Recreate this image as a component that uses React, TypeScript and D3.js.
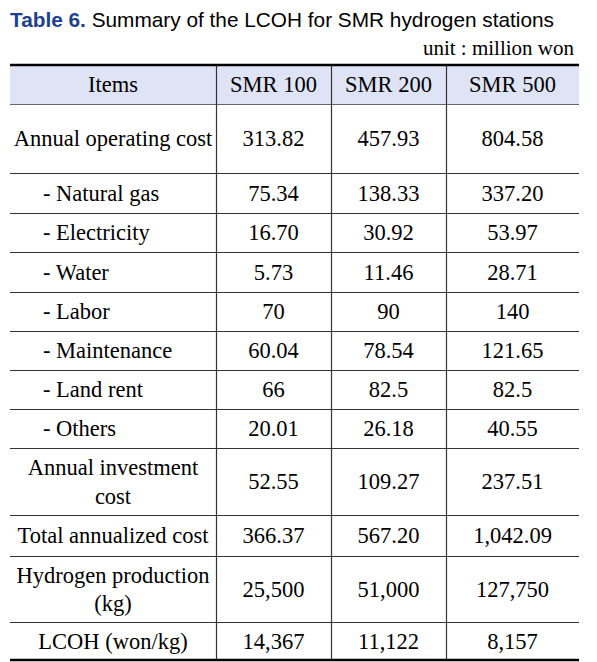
import React from "react";
import * as d3 from "d3";

const titleBold = "Table 6.";
const titleRest = " Summary of the LCOH for SMR hydrogen stations";
const unitLabel = "unit : million won";
const headers = ["Items", "SMR 100", "SMR 200", "SMR 500"];
const items: string[][] = [
  ["Annual operating cost"],
  ["- Natural gas"],
  ["- Electricity"],
  ["- Water"],
  ["- Labor"],
  ["- Maintenance"],
  ["- Land rent"],
  ["- Others"],
  ["Annual investment", "cost"],
  ["Total annualized cost"],
  ["Hydrogen production", "(kg)"],
  ["LCOH (won/kg)"],
];
const smr100 = ["313.82", "75.34", "16.70", "5.73", "70", "60.04", "66", "20.01", "52.55", "366.37", "25,500", "14,367"];
const smr200 = ["457.93", "138.33", "30.92", "11.46", "90", "78.54", "82.5", "26.18", "109.27", "567.20", "51,000", "11,122"];
const smr500 = ["804.58", "337.20", "53.97", "28.71", "140", "121.65", "82.5", "40.55", "237.51", "1,042.09", "127,750", "8,157"];

// layout
const W = 597;
const H = 662;
const colEdges = [10, 216, 331, 446, 579];
const tableTop = 65;
const headerH = 39;
const rowHeights = [69, 40, 39, 40, 39, 39, 39, 39, 67, 41, 66, 38];
const fs = 22.5;
const serif = "'Liberation Serif', 'Times New Roman', serif";
const sans = "'Liberation Sans', Arial, sans-serif";

export default function App() {
  const rowTops = d3.cumsum([tableTop + headerH, ...rowHeights]);
  const yEdges = [tableTop, ...Array.from(rowTops)];
  const tableBottom = yEdges[yEdges.length - 1];
  const colCenter = (i: number) => (colEdges[i] + colEdges[i + 1]) / 2;
  const cols = [smr100, smr200, smr500];
  const lineH = 28.5;
  const base = fs * 0.35;

  return (
    <svg
      width={W}
      height={H}
      style={{ position: "absolute", left: 0, top: 0, background: "#fff" }}
    >
      <rect width={W} height={H} fill="#fff" />
      <text x={10} y={27} fontFamily={sans} fontSize={20.8} fill="#000">
        <tspan fill="#1d3f8f" fontWeight="bold">{titleBold}</tspan>
        <tspan>{titleRest}</tspan>
      </text>
      <text x={574} y={55} textAnchor="end" fontFamily={serif} fontSize={21} fill="#000">
        {unitLabel}
      </text>
      {/* header background */}
      <rect
        x={colEdges[0]}
        y={tableTop}
        width={colEdges[4] - colEdges[0]}
        height={headerH}
        fill="#dfe3f6"
      />
      {/* horizontal lines */}
      {yEdges.slice(1, -1).map((y, i) => (
        <line
          key={"h" + i}
          x1={colEdges[0]}
          x2={colEdges[4]}
          y1={y + 0.5}
          y2={y + 0.5}
          stroke={i === 0 ? "#666" : "#333"}
          strokeWidth={1.2}
        />
      ))}
      {/* vertical lines */}
      {colEdges.slice(1, -1).map((x, i) => (
        <line
          key={"v" + i}
          x1={x + 0.5}
          x2={x + 0.5}
          y1={tableTop}
          y2={tableBottom}
          stroke="#333"
          strokeWidth={1.2}
        />
      ))}
      <line x1={colEdges[0]} x2={colEdges[4]} y1={tableTop} y2={tableTop} stroke="#000" strokeWidth={2.5} />
      <line x1={colEdges[0]} x2={colEdges[4]} y1={tableBottom} y2={tableBottom} stroke="#000" strokeWidth={2.5} />
      {/* header text */}
      {headers.map((h, i) => (
        <text
          key={"hd" + i}
          x={colCenter(i)}
          y={tableTop + headerH / 2 + base}
          textAnchor="middle"
          fontFamily={serif}
          fontSize={fs}
          fill="#000"
        >
          {h}
        </text>
      ))}
      {/* rows */}
      {items.map((lines, r) => {
        const cy = (yEdges[r + 1] + yEdges[r + 2]) / 2;
        const sub = lines[0].startsWith("- ");
        return (
          <g key={"r" + r}>
            {lines.map((ln, k) => (
              <text
                key={k}
                x={sub ? 43 : colCenter(0)}
                y={cy + base + (k - (lines.length - 1) / 2) * lineH}
                textAnchor={sub ? "start" : "middle"}
                fontFamily={serif}
                fontSize={fs}
                fill="#000"
              >
                {ln}
              </text>
            ))}
            {cols.map((c, j) => (
              <text
                key={"c" + j}
                x={colCenter(j + 1)}
                y={cy + base}
                textAnchor="middle"
                fontFamily={serif}
                fontSize={fs}
                fill="#000"
              >
                {c[r]}
              </text>
            ))}
          </g>
        );
      })}
    </svg>
  );
}
